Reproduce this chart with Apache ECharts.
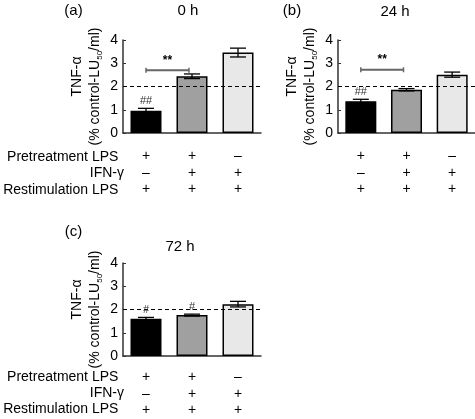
<!DOCTYPE html>
<html>
<head>
<meta charset="utf-8">
<script src="https://cdn.jsdelivr.net/npm/echarts@6/dist/echarts.min.js"></script>
<style>
html,body{margin:0;padding:0;background:#fff;}
#chart{width:475px;height:419px;}
</style>
</head>
<body>
<div id="chart"></div>
<script>
// ---- data ----
const categories = ['LPS/LPS', 'LPS+IFN-γ/LPS', 'IFN-γ/LPS'];
const pretreatLPS = ['+', '+', '–'];
const pretreatIFN = ['–', '+', '+'];
const restimLPS = ['+', '+', '+'];
const rowLabels = ['Pretreatment', 'IFN-γ', 'Restimulation'];
const rowAgents = ['LPS', '', 'LPS'];
const panelLetters = ['(a)', '(b)', '(c)'];
const panelTimes = ['0 h', '24 h', '72 h'];
const yTicks = [0, 1, 2, 3, 4];
const refLevel = 2;

const meansA = [0.96, 2.44, 3.46];
const errsA  = [0.10, 0.10, 0.19];
const marksA = ['##', '', ''];
const meansB = [1.37, 1.86, 2.51];
const errsB  = [0.08, 0.05, 0.11];
const marksB = ['##', '', ''];
const meansC = [1.60, 1.76, 2.23];
const errsC  = [0.06, 0.04, 0.12];
const marksC = ['#', '#', ''];
const sigA = [0, 1, 2.7, '**'];
const sigB = [0, 1, 2.72, '**'];

// ---- styling ----
const FONT = "'Liberation Sans', Arial, Helvetica, sans-serif";
const barColors = ['#000000', '#a0a0a0', '#e8e8e8'];
const axisColor = '#333';

const grids = [], xAxes = [], yAxes = [], series = [];

function addPanel(g, gridPos, means, errs, marks, sig, labelMargin) {
  grids.push(Object.assign({containLabel: false}, gridPos));
  xAxes.push({
    type: 'category', gridIndex: g, data: categories,
    axisLine: {lineStyle: {color: axisColor, width: 1.5}},
    axisTick: {inside: true, alignWithLabel: true, length: 3, lineStyle: {color: axisColor}},
    axisLabel: {
      interval: 0, margin: labelMargin, color: '#000', fontSize: 14, fontFamily: FONT, lineHeight: 16.5,
      formatter: function (v, i) { return pretreatLPS[i] + '\n' + pretreatIFN[i] + '\n' + restimLPS[i]; }
    }
  });
  yAxes.push({
    type: 'value', gridIndex: g, min: yTicks[0], max: yTicks[yTicks.length - 1], interval: 1,
    splitLine: {show: false},
    axisLine: {show: true, lineStyle: {color: axisColor, width: 1.5}},
    axisTick: {show: true, inside: true, length: 3, lineStyle: {color: axisColor}},
    axisLabel: {color: '#000', fontSize: 14, fontFamily: FONT, margin: 5},
    name: '{t|TNF-α}\n{n|(% control-LU}{s|50}{n|/ml)}',
    nameLocation: 'middle', nameGap: 19,
    nameTextStyle: {
      color: '#000', fontFamily: FONT, fontSize: 14,
      rich: {
        t: {fontSize: 14, fontFamily: FONT, lineHeight: 18, color: '#000', padding: [0, 0, 0, 20]},
        n: {fontSize: 14, fontFamily: FONT, lineHeight: 18, color: '#000'},
        s: {fontSize: 8, fontFamily: FONT, lineHeight: 8, verticalAlign: 'bottom', color: '#000'}
      }
    }
  });
  series.push({
    type: 'bar', xAxisIndex: g, yAxisIndex: g, barWidth: 31,
    data: means.map((m, i) => ({value: m, itemStyle: {color: barColors[i], borderColor: '#000', borderWidth: 1.5}})),
    markLine: {
      silent: true, symbol: ['none', 'none'], label: {show: false},
      lineStyle: {type: [4, 3], color: '#000', width: 1.2},
      data: [{yAxis: refLevel}]
    },
    z: 2
  });
  series.push({
    type: 'custom', xAxisIndex: g, yAxisIndex: g, z: 5,
    data: means.map((m, i) => [i, m, errs[i], marks[i]]),
    renderItem: function (params, api) {
      const i = api.value(0), m = api.value(1), e = api.value(2);
      const top = api.coord([i, m + e]);
      const bot = api.coord([i, m - e]);
      const hw = 8;
      const mark = marks[i];
      const children = [
        {type: 'line', shape: {x1: top[0], y1: top[1], x2: bot[0], y2: bot[1]}, style: {stroke: '#000', lineWidth: 1.3}},
        {type: 'line', shape: {x1: top[0] - hw, y1: top[1], x2: top[0] + hw, y2: top[1]}, style: {stroke: '#000', lineWidth: 1.3}},
        {type: 'line', shape: {x1: bot[0] - hw, y1: bot[1], x2: bot[0] + hw, y2: bot[1]}, style: {stroke: '#000', lineWidth: 1.3}}
      ];
      if (mark) {
        children.push({type: 'text', x: top[0], y: top[1] - 2,
          style: {text: mark, fill: '#333', font: '11px ' + FONT, align: 'center', verticalAlign: 'bottom'}});
      }
      return {type: 'group', children: children};
    }
  });
  if (sig) {
    series.push({
      type: 'custom', xAxisIndex: g, yAxisIndex: g, z: 5,
      data: [sig],
      renderItem: function (params, api) {
        const a = api.coord([api.value(0), api.value(2)]);
        const b = api.coord([api.value(1), api.value(2)]);
        const x1 = a[0], x2 = b[0] - 3, y = a[1];
        return {type: 'group', children: [
          {type: 'line', shape: {x1: x1, y1: y, x2: x2, y2: y}, style: {stroke: '#666', lineWidth: 2}},
          {type: 'line', shape: {x1: x1, y1: y - 2.5, x2: x1, y2: y + 2.5}, style: {stroke: '#666', lineWidth: 1.5}},
          {type: 'line', shape: {x1: x2, y1: y - 2.5, x2: x2, y2: y + 2.5}, style: {stroke: '#666', lineWidth: 1.5}},
          {type: 'text', x: (x1 + x2) / 2, y: y - 4,
            style: {text: sig[3], fill: '#000', font: 'bold 12px ' + FONT, align: 'center', verticalAlign: 'bottom'}}
        ]};
      }
    });
  }
}

addPanel(0, {left: 123, top: 40, width: 138, height: 93}, meansA, errsA, marksA, sigA, 15);
addPanel(1, {left: 338, top: 40, width: 137, height: 93}, meansB, errsB, marksB, sigB, 15);
addPanel(2, {left: 123, top: 263, width: 138, height: 93}, meansC, errsC, marksC, null, 13);

function txt(text, x, y, align, size) {
  return {type: 'text', x: x, y: y, style: {text: text, fill: '#000', font: (size || 14) + 'px ' + FONT, align: align || 'center', verticalAlign: 'middle'}};
}
const graphics = [
  txt(panelLetters[0], 73.5, 11, 'center', 15), txt(panelTimes[0], 188, 11, 'center', 15),
  txt(panelLetters[1], 292, 11, 'center', 15), txt(panelTimes[1], 395, 12, 'center', 15),
  txt(panelLetters[2], 73.5, 232, 'center', 15), txt(panelTimes[2], 180, 247, 'center', 15)
];
[[157, 173, 190], [377, 393, 409]].forEach(function (rows) {
  graphics.push(txt(rowLabels[0], 88, rows[0], 'right'));
  graphics.push(txt(rowAgents[0], 92, rows[0], 'left'));
  graphics.push(txt(rowLabels[1], 124, rows[1], 'right'));
  graphics.push(txt(rowLabels[2], 88, rows[2], 'right'));
  graphics.push(txt(rowAgents[2], 92, rows[2], 'left'));
});

const chart = echarts.init(document.getElementById('chart'), null, {renderer: 'canvas'});
chart.setOption({
  animation: false,
  backgroundColor: '#fff',
  grid: grids, xAxis: xAxes, yAxis: yAxes, series: series,
  graphic: graphics
});
</script>
</body>
</html>
